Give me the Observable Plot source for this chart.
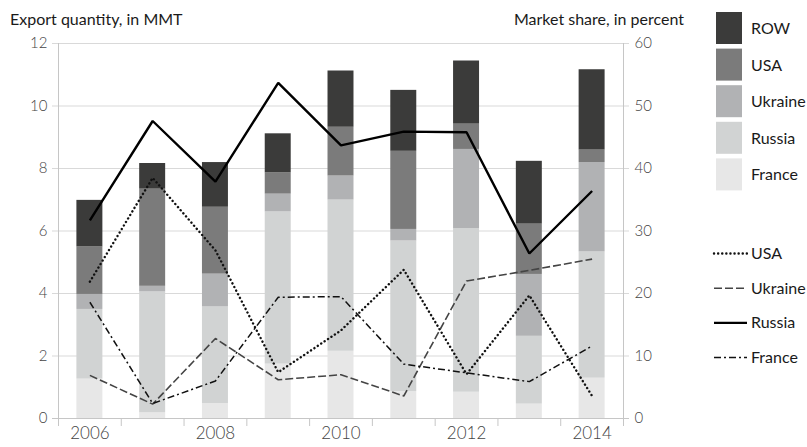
<!DOCTYPE html>
<html>
<head>
<meta charset="utf-8">
<script src="https://cdn.jsdelivr.net/npm/d3@7"></script>
<script src="https://cdn.jsdelivr.net/npm/@observablehq/plot@0.6"></script>
<style>
  html, body { margin: 0; padding: 0; background: #fff; }
  #chart { position: relative; width: 807px; height: 447px; }
</style>
</head>
<body>
<div id="chart"></div>
<script>
// ---- Data ----
const years = [2006, 2007, 2008, 2009, 2010, 2011, 2012, 2013, 2014];
// Export quantities (MMT), stacked bottom → top
const franceQty  = [1.26, 0.18, 0.48, 1.74, 2.15, 0.86, 0.84, 0.46, 1.29];
const russiaQty  = [2.23, 3.87, 3.09, 4.87, 4.84, 4.82, 5.24, 2.17, 4.04];
const ukraineQty = [0.48, 0.18, 1.05, 0.57, 0.77, 0.37, 2.53, 1.98, 2.86];
const usaQty     = [1.52, 3.11, 2.14, 0.68, 1.56, 2.50, 0.81, 1.61, 0.40];
const rowQty     = [1.49, 0.82, 1.43, 1.25, 1.80, 1.95, 2.02, 2.01, 2.57];
// Market shares (percent)
const usaShare     = [21.9, 38.5, 26.9, 7.4, 14.1, 23.8, 7.1, 19.7, 3.6];
const ukraineShare = [6.9, 2.3, 12.8, 6.2, 7.0, 3.6, 22.0, 23.7, 25.5];
const russiaShare  = [31.7, 47.6, 37.9, 53.7, 43.7, 45.9, 45.8, 26.4, 36.4];
const franceShare  = [18.6, 2.4, 6.0, 19.4, 19.5, 8.7, 7.3, 5.9, 11.6];

const leftTicks = [0, 2, 4, 6, 8, 10, 12];
const rightTickLabels = [0, 10, 20, 30, 40, 50, 60];
const xLabelYears = [2006, 2008, 2010, 2012, 2014];

const barSeries = [
  {name: "France", values: franceQty, color: "#e7e7e7"},
  {name: "Russia", values: russiaQty, color: "#d1d3d3"},
  {name: "Ukraine", values: ukraineQty, color: "#b1b2b4"},
  {name: "USA", values: usaQty, color: "#7b7b7b"},
  {name: "ROW", values: rowQty, color: "#3b3b3a"}
];
const lineSeries = [
  {name: "USA", values: usaShare, stroke: "#111", width: 2.4, dash: "0.1,4", cap: "round"},
  {name: "Ukraine", values: ukraineShare, stroke: "#444", width: 1.6, dash: "8,3", cap: "butt"},
  {name: "Russia", values: russiaShare, stroke: "#000", width: 2.4, dash: null, cap: "butt"},
  {name: "France", values: franceShare, stroke: "#111", width: 1.5, dash: "7,3,2,3", cap: "butt"}
];

// ---- Derived tables ----
const stacked = [];
years.forEach((yr, i) => {
  let base = 0;
  for (const s of barSeries) {
    stacked.push({year: yr, series: s.name, y1: base, y2: base + s.values[i], color: s.color});
    base += s.values[i];
  }
});
const shareScale = 12 / 60; // right axis 0–60% mapped onto 0–12 MMT
const x0 = d3.min(years) - 0.5, x1 = d3.max(years) + 0.5;
const boundaries = d3.range(x0, x1 + 0.001, 1);

const FONT = "Lato, 'Open Sans', sans-serif";

const lineMarks = lineSeries.map(s => Plot.line(
  years.map((yr, i) => ({year: yr, v: s.values[i] * shareScale})),
  {x: "year", y: "v", stroke: s.stroke, strokeWidth: s.width,
   strokeDasharray: s.dash, strokeLinecap: s.cap, strokeLinejoin: "miter"}
));

const chart = Plot.plot({
  width: 807,
  height: 447,
  marginLeft: 58,
  marginRight: 184,
  marginTop: 43,
  marginBottom: 29,
  style: {fontFamily: FONT, background: "#fff"},
  x: {domain: [x0, x1], axis: null, label: null},
  y: {domain: [0, 12], axis: null, label: null},
  marks: [
    Plot.ruleY(leftTicks.filter(d => d > 0), {y: d => d, stroke: "#d9d9d9", strokeWidth: 1, insetLeft: -6, insetRight: -6}),
    Plot.ruleX([x0, x1], {x: d => d, y1: 0, y2: 12, stroke: "#c6c6c6", strokeWidth: 1}),
    Plot.rect(stacked, {
      x1: d => d.year - 0.5, x2: d => d.year + 0.5, y1: "y1", y2: "y2",
      fill: "color", insetLeft: 18.4, insetRight: 18.4
    }),
    Plot.ruleY([0], {stroke: "#c6c6c6", strokeWidth: 1, insetLeft: -6, insetRight: -6}),
    ...lineMarks,
    Plot.axisX({ticks: boundaries, tickFormat: () => "", tickSize: 8, stroke: "#c6c6c6", tickPadding: 0, label: null}),
    Plot.axisX({ticks: xLabelYears, tickSize: 0, tickPadding: 8, fontSize: 17, fill: "#444", tickFormat: d => String(d), fontWeight: 300, label: null}),
    Plot.axisY({ticks: leftTicks, tickSize: 0, tickPadding: 11, fontSize: 15, fill: "#444", fontWeight: 300, label: null}),
    Plot.axisY({anchor: "right", ticks: leftTicks, tickSize: 0, tickPadding: 11, fontSize: 15, fill: "#444", fontWeight: 300, label: null,
      tickFormat: (d) => String(rightTickLabels[leftTicks.indexOf(d)])})
  ]
});
document.getElementById("chart").appendChild(chart);

// ---- Titles and legend ----
const svg = d3.select(chart);
svg.append("text").attr("x", 10).attr("y", 25).attr("font-size", 16).attr("fill", "#1a1a1a")
  .attr("text-anchor", "start").attr("font-family", FONT).text("Export quantity, in MMT");
svg.append("text").attr("x", 684).attr("y", 25).attr("font-size", 16).attr("fill", "#1a1a1a")
  .attr("text-anchor", "end").attr("font-family", FONT).text("Market share, in percent");

const legendBars = [...barSeries].reverse();
const lg = svg.append("g").attr("font-family", FONT).attr("font-size", 16).attr("fill", "#1a1a1a")
  .attr("text-anchor", "start");
legendBars.forEach((s, i) => {
  const top = 12 + i * 36.6;
  lg.append("rect").attr("x", 716).attr("y", top).attr("width", 26).attr("height", 32).attr("fill", s.color);
  lg.append("text").attr("x", 751).attr("y", top + 22).text(s.name);
});
lineSeries.forEach((s, i) => {
  const cy = 253.5 + i * 34.7;
  lg.append("line").attr("x1", 714).attr("x2", 747).attr("y1", cy).attr("y2", cy)
    .attr("stroke", s.stroke).attr("stroke-width", s.width)
    .attr("stroke-dasharray", s.dash).attr("stroke-linecap", s.cap);
  lg.append("text").attr("x", 751).attr("y", cy + 5.5).text(s.name);
});
</script>
</body>
</html>
